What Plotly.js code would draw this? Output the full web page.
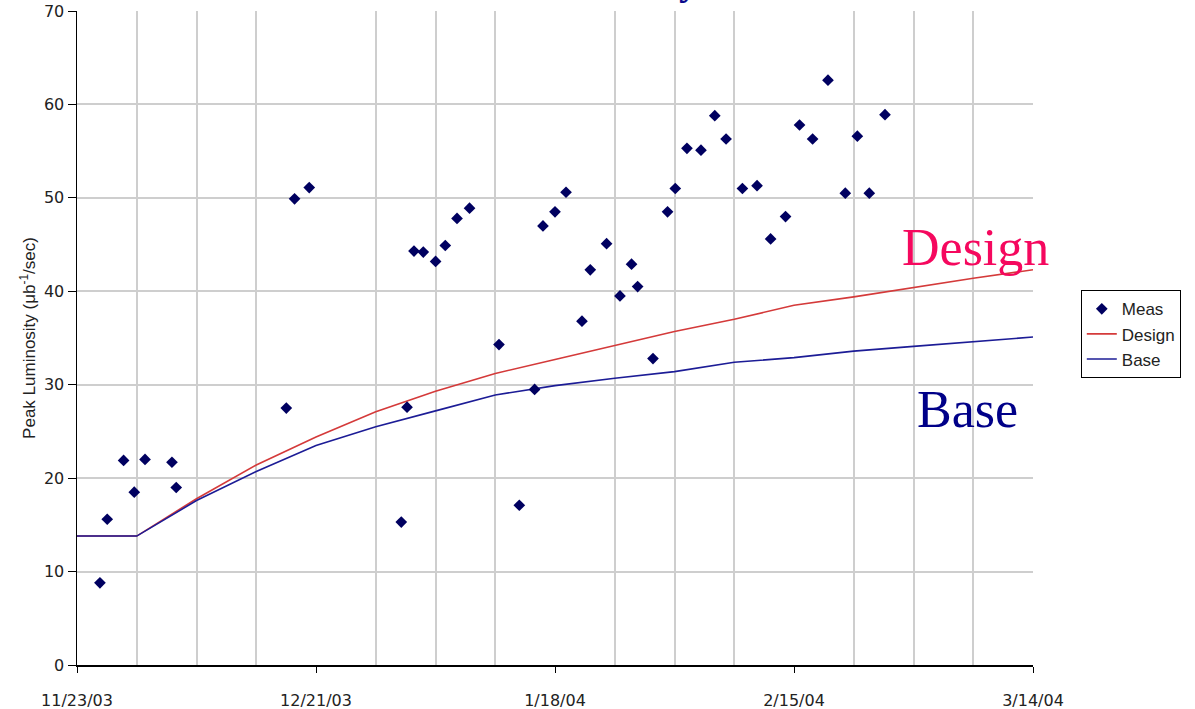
<!DOCTYPE html>
<html>
<head>
<meta charset="utf-8">
<script src="https://cdn.plot.ly/plotly-3.0.1.min.js"></script>
<style>
  html, body { margin: 0; padding: 0; background: #ffffff; }
  #chart { width: 1195px; height: 709px; }
</style>
</head>
<body>
<div id="chart"></div>
<script>
// Measured peak luminosity per store
const measDates = [
  "2003-11-25 16:30", "2003-11-26 13:00", "2003-11-28 11:00", "2003-11-29 17:00",
  "2003-11-30 23:15", "2003-12-04 03:00", "2003-12-04 15:00", "2003-12-17 12:30",
  "2003-12-18 11:45", "2003-12-20 05:00", "2003-12-30 23:45", "2003-12-31 16:00",
  "2004-01-01 11:30", "2004-01-02 13:40", "2004-01-04 00:15", "2004-01-05 03:30",
  "2004-01-06 12:30", "2004-01-07 23:45", "2004-01-11 10:30", "2004-01-13 19:40",
  "2004-01-15 14:40", "2004-01-16 14:10", "2004-01-18 00:00", "2004-01-19 07:00",
  "2004-01-21 03:50", "2004-01-22 03:10", "2004-01-24 01:00", "2004-01-25 14:40",
  "2004-01-26 23:15", "2004-01-27 16:20", "2004-01-29 11:30", "2004-01-31 04:30",
  "2004-02-01 02:10", "2004-02-02 11:00", "2004-02-04 02:25", "2004-02-05 17:15",
  "2004-02-07 01:00", "2004-02-08 23:00", "2004-02-10 16:05", "2004-02-12 06:15",
  "2004-02-14 00:15", "2004-02-15 15:35", "2004-02-17 04:20", "2004-02-18 23:30",
  "2004-02-21 00:15", "2004-02-22 10:05", "2004-02-23 19:40", "2004-02-25 15:50"
];
const measLum = [
  8.8, 15.6, 21.9, 18.5,
  22.0, 21.7, 19.0, 27.5,
  49.9, 51.1, 15.3, 27.6,
  44.3, 44.2, 43.2, 44.9,
  47.8, 48.9, 34.3, 17.1,
  29.5, 47.0, 48.5, 50.6,
  36.8, 42.3, 45.1, 39.5,
  42.9, 40.5, 32.8, 48.5,
  51.0, 55.3, 55.1, 58.8,
  56.3, 51.0, 51.3, 45.6,
  48.0, 57.8, 56.3, 62.6,
  50.5, 56.6, 50.5, 58.9
];

// Weekly projection curves
const curveDates = [
  "2003-11-23", "2003-11-30", "2003-12-07", "2003-12-14", "2003-12-21",
  "2003-12-28", "2004-01-04", "2004-01-11", "2004-01-18", "2004-01-25",
  "2004-02-01", "2004-02-08", "2004-02-15", "2004-02-22", "2004-02-29",
  "2004-03-07", "2004-03-14"
];
const designLum = [13.8, 13.8, 17.8, 21.4, 24.4, 27.1, 29.3, 31.2, 32.7, 34.2, 35.7, 37.0, 38.5, 39.4, 40.4, 41.4, 42.3];
const baseLum   = [13.8, 13.8, 17.6, 20.7, 23.5, 25.5, 27.2, 28.9, 29.9, 30.7, 31.4, 32.4, 32.9, 33.6, 34.1, 34.6, 35.1];

const seriesNames = ["Meas", "Design", "Base"];

const DAY = 86400000;
const gridColor = "#cecece";
const tickFont = { family: "DejaVu Sans", size: 16, color: "#222222" };

const traces = [
  {
    x: curveDates, y: designLum, name: seriesNames[1], type: "scatter", mode: "lines",
    line: { color: "#d43a3a", width: 1.6 }, legendrank: 2
  },
  {
    x: curveDates, y: baseLum, name: seriesNames[2], type: "scatter", mode: "lines",
    line: { color: "#1c1c96", width: 1.6 }, legendrank: 3
  },
  {
    x: measDates, y: measLum, name: seriesNames[0], type: "scatter", mode: "markers",
    marker: { symbol: "diamond", size: 9, color: "#000060" }, legendrank: 1
  }
];

const layout = {
  width: 1195, height: 709,
  margin: { l: 77, r: 162, t: 11, b: 44 },
  paper_bgcolor: "#ffffff", plot_bgcolor: "#ffffff",
  showlegend: true,
  legend: {
    x: 1.05, y: 0.573, xanchor: "left", yanchor: "top",
    bgcolor: "#ffffff", bordercolor: "#000000", borderwidth: 1,
    font: { family: "Liberation Sans", size: 17, color: "#222222" }
  },
  xaxis: {
    type: "date",
    range: ["2003-11-23", "2004-03-14"],
    tick0: "2003-11-23", dtick: 28 * DAY,
    tickformat: "%-m/%-d/%y",
    tickfont: tickFont,
    ticks: "outside", ticklen: 6, tickcolor: "#000000", tickwidth: 1,
    ticklabelstandoff: 14,
    showgrid: false,
    minor: { tick0: "2003-11-23", dtick: 7 * DAY, showgrid: true, gridcolor: gridColor, gridwidth: 2, ticks: "" },
    showline: true, linecolor: "#000000", linewidth: 1.5,
    zeroline: false
  },
  yaxis: {
    range: [0, 70], dtick: 10,
    tickfont: tickFont,
    ticks: "outside", ticklen: 8, tickcolor: "#000000", tickwidth: 1,
    showgrid: true, gridcolor: gridColor, gridwidth: 2,
    showline: true, linecolor: "#000000", linewidth: 1.5,
    zeroline: false,
    title: {
      text: "Peak Luminosity (μb<sup>-1</sup>/sec)",
      font: { family: "Liberation Sans", size: 17, color: "#222222" },
      standoff: 4
    }
  },
  annotations: [
    {
      text: "Design", xref: "paper", yref: "paper", x: 0.861, y: 0.639,
      xanchor: "left", yanchor: "middle", showarrow: false,
      font: { family: "Liberation Serif", size: 52, color: "#f5085e" }
    },
    {
      text: "Base", xref: "paper", yref: "paper", x: 0.877, y: 0.391,
      xanchor: "left", yanchor: "middle", showarrow: false,
      font: { family: "Liberation Serif", size: 52, color: "#000088" }
    },
    {
      // slide heading above the chart
      text: "<b>Peak Luminosity</b>", xref: "paper", yref: "paper", x: (701 - 77) / 956, y: 1,
      xanchor: "right", yanchor: "bottom", yshift: 6, showarrow: false,
      font: { family: "Liberation Serif", size: 40, color: "#0a0a8c" }
    }
  ]
};

Plotly.newPlot("chart", traces, layout, { displayModeBar: false, staticPlot: true });
</script>
</body>
</html>
